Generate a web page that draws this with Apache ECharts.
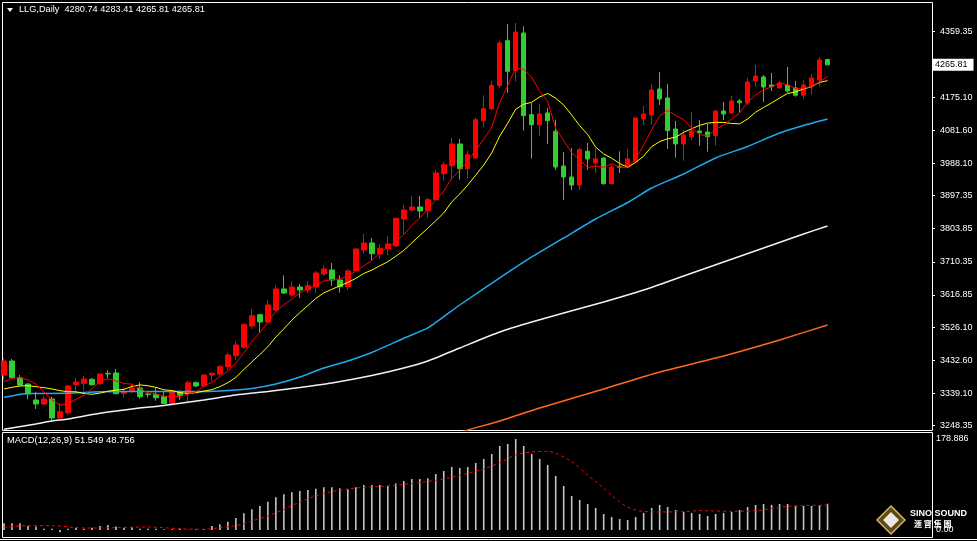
<!DOCTYPE html>
<html><head><meta charset="utf-8">
<script src="https://cdn.jsdelivr.net/npm/echarts@6/dist/echarts.min.js"></script>
<style>html,body{margin:0;padding:0;background:#000;overflow:hidden}#c{width:977px;height:541px}</style>
</head><body><div id="c"></div>
<script>
// ---- data ----
const candleOpen = [3391.2,3430.7,3383.6,3365.9,3320.7,3309.5,3323.6,3270.0,3284.9,3363.9,
3367.8,3379.1,3366.7,3396.0,3396.9,3339.6,3345.3,3354.6,3337.7,3335.7,
3330.0,3310.3,3344.2,3339.6,3369.5,3360.2,3391.2,3394.1,3414.6,3445.7,
3469.4,3529.4,3561.3,3540.7,3574.5,3633.8,3616.8,3639.4,3630.9,3639.4,
3676.1,3687.3,3659.1,3640.2,3685.4,3743.7,3763.5,3732.5,3747.4,3755.0,
3831.2,3856.5,3865.0,3854.6,3885.6,3958.9,3981.5,4042.7,3973.0,4003.2,
4108.4,4142.2,4207.1,4334.0,4249.4,4355.7,4125.3,4097.1,4130.1,4078.5,
3980.6,3949.6,3927.0,4022.1,3989.0,4003.2,3930.7,3979.7,3977.8,3992.7,
4113.2,4124.4,4197.7,4172.4,4084.9,4042.7,4063.2,4079.3,4076.5,4066.1,
4135.7,4130.1,4163.9,4159.1,4220.3,4231.6,4209.0,4201.4,4209.0,4200.6,
4180.1,4206.2,4223.1,4280.74];
const candleHigh = [3439.2,3436.4,3391.2,3366.7,3343.3,3332.0,3330.0,3311.4,3363.0,3382.8,
3388.4,3382.8,3397.7,3404.5,3408.2,3356.6,3367.8,3370.7,3343.3,3355.4,
3344.2,3346.0,3348.1,3376.3,3373.5,3394.1,3398.9,3419.4,3454.1,3486.3,
3537.0,3577.4,3563.3,3602.7,3644.2,3672.4,3655.5,3647.9,3655.5,3684.5,
3700.6,3707.1,3672.4,3689.3,3748.0,3788.9,3777.6,3760.7,3783.2,3835.0,
3871.5,3896.0,3896.0,3890.4,3970.2,3991.9,4059.6,4056.8,4023.8,4117.9,
4180.0,4221.2,4334.0,4381.0,4383.9,4374.6,4158.3,4155.5,4144.2,4111.2,
4020.1,4031.4,4031.4,4045.5,4031.4,4004.0,3984.3,4022.1,4027.2,4117.0,
4149.8,4211.9,4245.7,4211.9,4107.5,4082.1,4132.9,4110.3,4099.0,4136.5,
4161.1,4178.0,4169.6,4228.8,4265.4,4237.2,4242.9,4220.3,4259.8,4220.3,
4223.1,4240.1,4288.0,4283.41];
const candleLow = [3377.1,3382.8,3360.2,3323.6,3295.4,3306.6,3262.4,3267.2,3278.4,3346.1,
3346.9,3360.2,3363.0,3381.9,3337.0,3328.4,3339.6,3324.4,3327.2,3318.7,
3309.0,3306.6,3320.7,3315.9,3356.6,3356.6,3373.5,3388.4,3405.3,3433.5,
3465.4,3520.9,3510.5,3537.0,3569.7,3620.0,3614.0,3609.2,3623.3,3623.3,
3670.4,3643.0,3623.3,3630.9,3684.0,3734.4,3715.5,3719.2,3728.8,3753.0,
3788.9,3850.9,3834.0,3834.0,3884.0,3939.2,3942.0,3942.0,3944.8,4001.2,
4089.7,4138.5,4200.6,4186.5,4219.5,4080.2,4001.2,4064.4,4042.7,3970.2,
3884.7,3912.9,3912.9,3970.2,3960.9,3927.9,3929.0,3960.9,3975.0,3991.0,
4096.2,4096.2,4152.7,4028.6,4004.0,3995.6,4053.9,4037.9,4020.9,4037.9,
4110.3,4129.2,4131.4,4152.7,4204.2,4161.1,4192.1,4198.6,4187.3,4176.0,
4170.4,4181.7,4204.2,4265.81];
const candleClose = [3430.7,3383.6,3363.0,3337.7,3309.5,3323.6,3270.0,3287.7,3360.2,3371.5,
3380.0,3363.9,3394.1,3394.1,3338.5,3345.3,3354.6,3330.0,3335.7,3327.2,
3310.3,3345.3,3334.0,3369.5,3360.2,3391.2,3396.0,3414.6,3447.6,3475.8,
3533.1,3558.5,3540.7,3588.6,3633.8,3622.5,3639.4,3630.9,3643.0,3678.9,
3690.2,3659.1,3640.2,3684.5,3746.6,3763.5,3733.3,3748.5,3760.7,3833.1,
3856.5,3865.0,3853.7,3885.6,3960.9,3984.3,4042.7,3973.0,4012.5,4111.2,
4142.2,4208.2,4327.5,4247.7,4358.5,4122.5,4097.1,4127.3,4108.4,3977.8,
3949.6,3927.0,4027.2,4000.4,4000.4,3930.7,3977.8,3976.9,4000.4,4116.0,
4127.3,4194.9,4169.6,4080.2,4042.7,4068.0,4079.3,4074.5,4063.2,4135.7,
4127.3,4163.9,4159.1,4217.5,4234.4,4203.4,4204.2,4214.7,4192.1,4180.1,
4209.0,4228.8,4279.5,4265.81];
const ma5 = [3372.4,3381.9,3383.6,3377.1,3365.2,3343.8,3321.0,3306.0,3310.4,3322.8,
3334.0,3352.8,3374.0,3380.8,3374.2,3367.2,3365.4,3352.6,3341.0,3338.6,
3331.6,3329.6,3330.4,3337.2,3343.8,3360.0,3370.2,3386.4,3402.0,3425.2,
3453.6,3486.2,3511.4,3539.6,3571.2,3589.2,3605.2,3623.2,3634.0,3643.0,
3656.4,3660.4,3662.2,3670.6,3684.2,3699.0,3713.8,3735.6,3750.8,3768.0,
3786.6,3813.0,3834.0,3859.0,3884.6,3910.0,3945.6,3969.4,3994.8,4024.8,
4056.4,4089.4,4160.4,4207.4,4257.0,4253.2,4231.0,4190.8,4162.8,4086.6,
4052.0,4018.0,3998.0,3976.4,3980.8,3977.0,3987.2,3977.2,3977.2,4000.4,
4039.6,4083.0,4121.6,4137.6,4123.0,4111.2,4088.0,4069.0,4065.6,4084.2,
4096.0,4113.0,4129.8,4160.8,4180.4,4195.6,4203.6,4214.8,4209.6,4198.8,
4200.0,4205.0,4218.0,4232.8];
const ma10 = [3351.8,3356.5,3360.2,3361.0,3358.2,3355.4,3351.8,3347.0,3344.2,3344.0,
3338.9,3336.9,3340.0,3345.6,3348.5,3350.6,3359.1,3363.3,3360.9,3356.4,
3349.4,3347.5,3341.5,3339.1,3341.2,3345.8,3349.9,3358.4,3369.6,3384.5,
3406.8,3428.2,3448.9,3470.8,3498.2,3521.4,3545.7,3567.3,3586.8,3607.1,
3622.8,3632.8,3642.7,3652.3,3663.6,3677.7,3687.1,3698.9,3710.7,3726.1,
3742.8,3763.4,3784.8,3804.9,3826.3,3848.3,3879.3,3901.7,3926.9,3954.7,
3983.2,4017.5,4064.9,4101.1,4140.9,4154.8,4160.2,4175.6,4185.1,4171.8,
4152.6,4124.5,4094.4,4069.6,4033.7,4014.5,4002.6,3987.6,3976.8,3990.6,
4008.3,4035.1,4049.4,4057.4,4061.7,4075.4,4085.5,4095.3,4101.6,4103.6,
4103.6,4100.5,4099.4,4113.2,4132.3,4145.8,4158.3,4172.3,4185.2,4189.6,
4197.8,4204.3,4216.4,4221.2];
// long moving averages, read at sample bars: [bar index, value]
const maBlue = [[0,3328.3],[3,3339.1],[8,3339.6],[12,3344.1],[20,3344.7],[25,3344.7],[28,3347.5],
[31,3353.2],[34,3365.9],[37,3385.6],[40,3411.0],[43,3430.7],[46,3454.5],[50,3494.7],[53,3523.8],
[57,3588.6],[62,3664.8],[66,3724.0],[70,3777.6],[74,3831.2],[78,3877.7],[81,3918.6],[85,3958.1],
[89,4003.2],[93,4035.6],[97,4073.7],[100,4094.8],[103,4113.2]];
const maWhite = [[0,3238.0],[4,3253.1],[6,3261.5],[8,3267.1],[12,3283.2],[16,3295.4],[20,3305.2],
[25,3320.7],[29,3334.8],[33,3344.7],[37,3356.0],[41,3368.7],[46,3389.8],[50,3411.0],[53,3430.7],
[57,3467.4],[62,3512.5],[66,3540.7],[70,3566.1],[75,3597.1],[80,3630.9],[85,3670.4],[90,3709.9],
[95,3749.4],[100,3788.9],[103,3811.4]];
const maOrange = [[56,3222.0],[58,3236.1],[62,3261.5],[67,3298.2],[75,3351.8],[82,3399.7],
[90,3444.8],[97,3489.9],[103,3532.3]];
const macdHist = [13.1,13.1,13.1,7.9,6.6,2.6,2.6,-4.6,2.6,4.6,
2.6,4.6,7.9,9.8,6.6,4.6,5.2,2.6,2.6,2.6,
1.3,1.3,2.6,0.5,1.3,2.0,7.9,11.1,16.4,23.6,
32.8,40.6,47.2,55.7,64.2,70.1,74.0,76.6,78.6,81.2,
83.8,83.8,81.9,79.9,83.8,88.4,88.4,88.4,86.5,91.7,
96.3,100.2,100.2,101.5,110.0,115.9,123.8,121.8,123.8,131.7,
139.5,149.3,165.1,169.0,178.886,165.1,149.3,139.5,127.7,106.1,
86.5,66.8,59.0,51.1,43.2,31.4,25.5,21.6,19.7,25.5,
33.4,43.2,49.1,45.2,39.3,35.4,33.4,31.4,27.5,31.4,
33.4,35.4,39.3,45.2,49.1,51.1,49.1,51.1,51.1,47.2,
47.2,47.2,49.1,51.549];
const macdSignal = [[0,5.2],[3,8.5],[6,8.5],[10,3.9],[14,4.6],[18,5.9],[22,2.5],[25,1.3],[27,4.6],
[29,8.5],[31,17.7],[33,27.5],[35,40.6],[37,55.0],[39,67.0],[41,75.5],[43,80.6],[45,83.8],[47,85.5],
[50,89.7],[54,97.5],[56,103.5],[58,111.5],[60,119.9],[62,132.3],[64,147.4],[66,153.3],[68,154.6],
[69,151.0],[71,134.3],[73,108.0],[74,95.0],[75,82.0],[76,68.0],[77,55.0],[78,45.0],[79,39.0],
[80,36.5],[82,35.4],[85,36.0],[87,38.0],[91,36.7],[94,38.0],[96,42.0],[98,46.5],[100,48.0],[103,48.756]];
const priceTicks = [4359.35,4175.10,4081.60,3988.10,3897.35,3803.85,3710.35,3616.85,3526.10,3432.60,3339.10,3248.35];
const lastPrice = 4265.81;
const macdTicks = [178.886, 0];
const headerText = 'LLG,Daily  4280.74 4283.41 4265.81 4265.81';
const macdText = 'MACD(12,26,9) 51.549 48.756';
const slotCount = 116;
const dayIndex = Array.from({length: slotCount}, (_, i) => String(i));

// ---- chart ----
const chart = echarts.init(document.getElementById('c'), null, {renderer: 'canvas'});
const FONT = 'Liberation Sans';
const candles = candleOpen.map((o, i) => [o, candleClose[i], candleLow[i], candleHigh[i]]);
const lineBase = {type: 'line', symbol: 'none', silent: true, animation: false};

chart.setOption({
  backgroundColor: '#000',
  animation: false,
  grid: [
    {left: -0.5, top: 5, width: 928, height: 425},
    {left: -0.5, top: 434, width: 928, height: 103}
  ],
  xAxis: [
    {type: 'category', data: dayIndex, gridIndex: 0, boundaryGap: true, show: false},
    {type: 'category', data: dayIndex, gridIndex: 1, boundaryGap: true, show: false}
  ],
  yAxis: [
    {gridIndex: 0, type: 'value', position: 'right', min: 3236.1, max: 4434.6, offset: 4.5,
      axisLine: {show: false}, splitLine: {show: false},
      axisTick: {show: true, length: 3, lineStyle: {color: '#fff'}, customValues: priceTicks.concat([lastPrice])},
      axisLabel: {customValues: priceTicks, formatter: v => Number(v).toFixed(2), color: '#fff',
        fontSize: 9, fontFamily: FONT, margin: 8}},
    {gridIndex: 1, type: 'value', position: 'right', min: -13.8, max: 188.7, offset: 4.5,
      axisLine: {show: false}, splitLine: {show: false}, axisTick: {show: false},
      axisLabel: {customValues: macdTicks, formatter: v => (Number(v) === 0 ? '0.00' : Number(v).toFixed(3)),
        color: '#fff', fontSize: 9, fontFamily: FONT, margin: 4}}
  ],
  series: [
    Object.assign({}, lineBase, {name: 'MAorange', xAxisIndex: 0, yAxisIndex: 0, data: maOrange, smooth: 0.2,
      lineStyle: {color: '#ff6a1a', width: 1.5}}),
    Object.assign({}, lineBase, {name: 'MAwhite', xAxisIndex: 0, yAxisIndex: 0, data: maWhite, smooth: 0.2,
      lineStyle: {color: '#f0f0ff', width: 1.5}}),
    Object.assign({}, lineBase, {name: 'MAblue', xAxisIndex: 0, yAxisIndex: 0, data: maBlue, smooth: 0.2,
      lineStyle: {color: '#1eaaf0', width: 1.5}}),
    {type: 'candlestick', name: 'LLG', xAxisIndex: 0, yAxisIndex: 0, data: candles, barWidth: 5,
      silent: true, animation: false,
      itemStyle: {color: '#ff0000', color0: '#32cd32', borderColor: '#ff0000', borderColor0: '#32cd32', borderWidth: 1},
      markLine: {silent: true, symbol: ['none', 'none'], animation: false, precision: 2,
        lineStyle: {color: 'rgba(0,0,0,0)', width: 1, type: 'solid'},
        label: {show: true, position: 'end', distance: 5.5, formatter: () => lastPrice.toFixed(2),
          color: '#000', backgroundColor: '#fff', padding: [2, 6, 1, 2], fontSize: 9, fontFamily: FONT, opacity: 1},
        data: [{yAxis: lastPrice}]}},
    Object.assign({}, lineBase, {name: 'MA10', xAxisIndex: 0, yAxisIndex: 0, data: ma10,
      lineStyle: {color: '#ffff00', width: 1}}),
    Object.assign({}, lineBase, {name: 'MA5', xAxisIndex: 0, yAxisIndex: 0, data: ma5,
      lineStyle: {color: '#ff0000', width: 1}}),
    {type: 'bar', name: 'MACD', xAxisIndex: 1, yAxisIndex: 1, data: macdHist, barWidth: 1.6,
      silent: true, animation: false, itemStyle: {color: '#c4c4c4'}},
    Object.assign({}, lineBase, {name: 'Signal', xAxisIndex: 1, yAxisIndex: 1, data: macdSignal, smooth: 0.3,
      lineStyle: {color: '#ff0000', width: 1, type: [3, 3]}})
  ],
  graphic: [
    {type: 'rect', silent: true, shape: {x: 2.5, y: 2.5, width: 930, height: 428}, style: {fill: null, stroke: '#fff', lineWidth: 1}},
    {type: 'rect', silent: true, shape: {x: 2.5, y: 432.5, width: 930, height: 105}, style: {fill: null, stroke: '#fff', lineWidth: 1}},
    {type: 'line', silent: true, shape: {x1: 0, y1: 539.5, x2: 977, y2: 539.5}, style: {stroke: '#fff', lineWidth: 1}},
    {type: 'polygon', silent: true, shape: {points: [[7, 8], [13, 8], [10, 12]]}, style: {fill: '#fff'}},
    {type: 'text', silent: true, left: 19, top: 5, style: {text: headerText, fill: '#fff', font: '9.2px "Liberation Sans"'}},
    {type: 'text', silent: true, left: 7, top: 436, style: {text: macdText, fill: '#fff', font: '9.4px "Liberation Sans"'}},
    // logo
    {type: 'polygon', silent: true, shape: {points: [[891, 506], [905, 520], [891, 534], [877, 520]]},
      style: {fill: '#5a4a22', stroke: '#d4b25a', lineWidth: 1.5}},
    {type: 'polygon', silent: true, shape: {points: [[891, 512], [899, 520], [891, 528], [883, 520]]},
      style: {fill: '#e8e8e8', stroke: '#b8963c', lineWidth: 1}},
    {type: 'text', silent: true, left: 910, top: 509, style: {text: 'SINO SOUND', fill: '#fff', font: 'bold 9px "Liberation Sans"'}},
    {type: 'text', silent: true, left: 914, top: 520, style: {text: '滙 寶 集 團', fill: '#fff', font: 'bold 8px "Noto Sans CJK TC"'}}
  ]
});
</script></body></html>
